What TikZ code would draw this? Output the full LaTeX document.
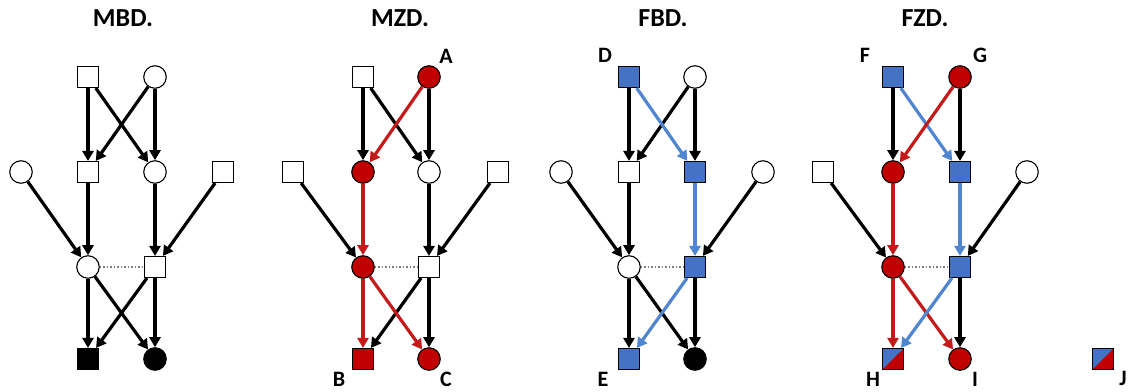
\documentclass[tikz,border=0pt]{standalone}
\usepackage{fontspec}
\setmainfont{Carlito}
\usetikzlibrary{arrows.meta}
\definecolor{nred}{HTML}{C00000}
\definecolor{nblue}{HTML}{4472C4}
\definecolor{ered}{HTML}{C41A1A}
\definecolor{eblue}{HTML}{4F86CF}
\definecolor{dotgray}{HTML}{7F7F7F}

\begin{document}
\begin{tikzpicture}[x=1pt,y=-1pt,
  snode/.style={rectangle, draw=black, line width=1.1pt, minimum size=21pt, inner sep=0pt, fill=white},
  cnode/.style={circle, draw=black, line width=1.1pt, minimum size=22.5pt, inner sep=0pt, fill=white},
  rf/.style={fill=nred},
  bf/.style={fill=nblue},
  kf/.style={fill=black},
  split/.style={path picture={
      \fill[nblue] (path picture bounding box.north west) rectangle (path picture bounding box.south east);
      \fill[nred] (path picture bounding box.south west) -- (path picture bounding box.south east)
                  -- (path picture bounding box.north east) -- cycle;}},
  arr/.style={line width=3.2pt, draw=black, -{Triangle[length=10pt,width=11pt]}},
  arrR/.style={arr, draw=ered},
  arrB/.style={arr, draw=eblue},
  link/.style={draw=dotgray, line width=1.5pt, dotted},
  title/.style={font=\bfseries\fontsize{26}{30}\selectfont},
  lbl/.style={font=\bfseries\fontsize{22}{26}\selectfont}]

\useasboundingbox (0,0) rectangle (1135,391);

% ---------- MBD. ----------
\node[title] (h1) at (123,18) {MBD.};
\node[snode]    (p1t1) at (88,77)  {};
\node[cnode]    (p1t2) at (155,77) {};
\node[cnode]    (p1m0) at (21,172) {};
\node[snode]    (p1m1) at (88,172) {};
\node[cnode]    (p1m2) at (155,172) {};
\node[snode]    (p1m3) at (223,172) {};
\node[cnode]    (p1c1) at (88,267) {};
\node[snode]    (p1c2) at (155,267) {};
\node[snode,kf] (p1b1) at (88,359) {};
\node[cnode,kf] (p1b2) at (155,359) {};
\draw[link] (p1c1) -- (p1c2);
\draw[arr] (p1t1) -- (p1m1);
\draw[arr] (p1t1) -- (p1m2);
\draw[arr] (p1t2) -- (p1m1);
\draw[arr] (p1t2) -- (p1m2);
\draw[arr] (p1m0) -- (p1c1);
\draw[arr] (p1m1) -- (p1c1);
\draw[arr] (p1m2) -- (p1c2);
\draw[arr] (p1m3) -- (p1c2);
\draw[arr] (p1c1) -- (p1b1);
\draw[arr] (p1c1) -- (p1b2);
\draw[arr] (p1c2) -- (p1b1);
\draw[arr] (p1c2) -- (p1b2);

% ---------- MZD. ----------
\node[title] (h2) at (400,18) {MZD.};
\node[snode]    (p2t1) at (363,77)  {};
\node[cnode,rf] (p2t2) at (429,77)  {};
\node[cnode]    (p2m2) at (429,172) {};
\node[snode]    (p2m0) at (293,172) {};
\node[cnode,rf] (p2m1) at (363,172) {};
\node[snode]    (p2m3) at (498,172) {};
\node[cnode,rf] (p2c1) at (363,267) {};
\node[snode]    (p2c2) at (429,267) {};
\node[snode,rf] (p2b1) at (363,359) {};
\node[cnode,rf] (p2b2) at (429,359) {};
\node[lbl] (lA) at (446,56)  {A};
\node[lbl] (lB) at (339,379) {B};
\node[lbl] (lC) at (446,379) {C};
\draw[link] (p2c1) -- (p2c2);
\draw[arr] (p2t1) -- (p2m1);
\draw[arr] (p2t1) -- (p2m2);
\draw[arr] (p2t2) -- (p2m2);
\draw[arr] (p2m0) -- (p2c1);
\draw[arr] (p2m2) -- (p2c2);
\draw[arr] (p2m3) -- (p2c2);
\draw[arr] (p2c2) -- (p2b1);
\draw[arr] (p2c2) -- (p2b2);
\draw[arrR] (p2t2) -- (p2m1);
\draw[arrR] (p2m1) -- (p2c1);
\draw[arrR] (p2c1) -- (p2b1);
\draw[arrR] (p2c1) -- (p2b2);

% ---------- FBD. ----------
\node[title] (h3) at (663,18) {FBD.};
\node[snode,bf] (p3t1) at (629,77)  {};
\node[cnode]    (p3t2) at (695,77)  {};
\node[cnode]    (p3m0) at (561,172) {};
\node[snode]    (p3m1) at (629,172) {};
\node[snode,bf] (p3m2) at (695,172) {};
\node[cnode]    (p3m3) at (763,172) {};
\node[cnode]    (p3c1) at (629,267) {};
\node[snode,bf] (p3c2) at (695,267) {};
\node[snode,bf] (p3b1) at (629,359) {};
\node[cnode,kf] (p3b2) at (695,359) {};
\node[lbl] (lD) at (605,55)  {D};
\node[lbl] (lE) at (603,379) {E};
\draw[link] (p3c1) -- (p3c2);
\draw[arr] (p3t1) -- (p3m1);
\draw[arr] (p3t2) -- (p3m1);
\draw[arr] (p3t2) -- (p3m2);
\draw[arr] (p3m0) -- (p3c1);
\draw[arr] (p3m1) -- (p3c1);
\draw[arr] (p3m3) -- (p3c2);
\draw[arr] (p3c1) -- (p3b1);
\draw[arr] (p3c1) -- (p3b2);
\draw[arr] (p3c2) -- (p3b2);
\draw[arrB] (p3t1) -- (p3m2);
\draw[arrB] (p3m2) -- (p3c2);
\draw[arrB] (p3c2) -- (p3b1);

% ---------- FZD. ----------
\node[title] (h4) at (925,18) {FZD.};
\node[snode,bf]    (p4t1) at (893,77)  {};
\node[cnode,rf]    (p4t2) at (960,77)  {};
\node[snode]       (p4m0) at (823,172) {};
\node[cnode,rf]    (p4m1) at (893,172) {};
\node[snode,bf]    (p4m2) at (960,172) {};
\node[cnode]       (p4m3) at (1027,172) {};
\node[cnode,rf]    (p4c1) at (893,267) {};
\node[snode,bf]    (p4c2) at (960,267) {};
\node[snode,split] (p4b1) at (893,359) {};
\node[cnode,rf]    (p4b2) at (960,359) {};
\node[lbl] (lF) at (865,55)  {F};
\node[lbl] (lG) at (980,55)  {G};
\node[lbl] (lH) at (873,379) {H};
\node[lbl] (lI) at (975,379) {I};
\draw[link] (p4c1) -- (p4c2);
\draw[arr] (p4t1) -- (p4m1);
\draw[arr] (p4t2) -- (p4m2);
\draw[arr] (p4m0) -- (p4c1);
\draw[arr] (p4m3) -- (p4c2);
\draw[arr] (p4c2) -- (p4b2);
\draw[arrB] (p4t1) -- (p4m2);
\draw[arrR] (p4t2) -- (p4m1);
\draw[arrR] (p4m1) -- (p4c1);
\draw[arrB] (p4m2) -- (p4c2);
\draw[arrR] (p4c1) -- (p4b1);
\draw[arrR] (p4c1) -- (p4b2);
\draw[arrB] (p4c2) -- (p4b1);

% ---------- legend ----------
\node[snode,split] (key) at (1103,359) {};
\node[lbl] (lJ) at (1123,378) {J};

\end{tikzpicture}
\end{document}
